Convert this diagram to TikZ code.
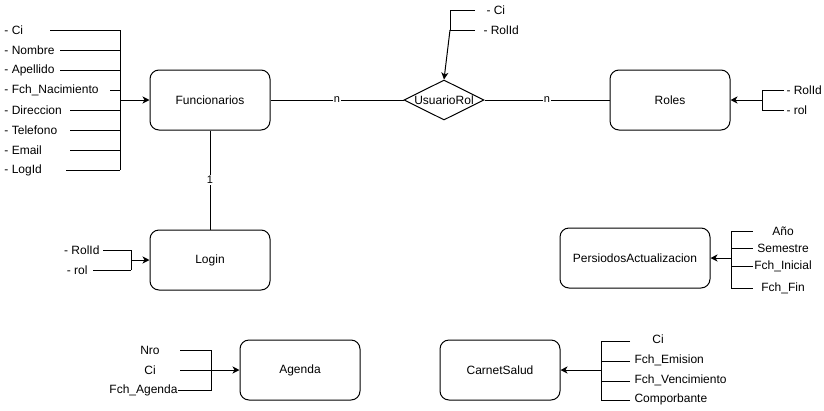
\documentclass[tikz,border=0pt]{standalone}
\usepackage{fontspec}
\setmainfont{Liberation Sans}
\usetikzlibrary{shapes.geometric,arrows.meta,positioning}
\tikzset{
  entidad/.style={draw, rounded corners=9pt, minimum width=120pt, minimum height=60pt, inner sep=0pt},
  relacion/.style={draw, diamond, minimum width=80pt, minimum height=40pt, inner sep=0pt},
  atributo/.style={inner sep=0pt},
  card/.style={fill=white, inner sep=1pt, font=\fontsize{11}{13}\selectfont},
  flecha/.style={-{Stealth[length=7pt,width=7pt,inset=2pt]}},
}
\begin{document}
\begin{tikzpicture}[x=1pt, y=-1pt, line width=1pt, font=\fontsize{12}{14}\selectfont]
            \useasboundingbox (0,0) rectangle (824,410);
            % entities
            \node[entidad] (func) at (210,100) {Funcionarios};
            \node[relacion, label=center:UsuarioRol] (urol) at (444,100) {};
            \node[entidad] (roles) at (670,100) {Roles};
            \node[entidad] (login) at (210,260) {Login};
            \node[entidad, minimum width=150pt] (period) at (635,258) {PersiodosActualizacion};
            \node[entidad] (agenda) at (300,370) {Agenda};
            \node[entidad] (carnet) at (500,370) {CarnetSalud};
            % relations
            \draw (func) -- node[card] {n} (urol);
            \draw (urol) -- node[card] {n} (roles);
            \draw (func) -- node[card] {1} (login);
            % funcionarios attributes
            \coordinate (fbar) at (120,100);
            \foreach \t/\y/\s [count=\i] in {- Ci/30/50, - Nombre/50/60, - Apellido/70/60,
                - Fch\_Nacimiento/90/110, - Direccion/110/70, - Telefono/130/70,
                - Email/150/70, - LogId/170/66} {
              \node[atributo, anchor=west] (fa\i) at (4,\y) {\t};
              \coordinate (fs\i) at (\s,\y);
              \draw (fs\i) -- (fs\i -| fbar);
            }
            \draw (fs1 -| fbar) -- (fs8 -| fbar);
            \draw[flecha] (fbar) -- (func);
            % usuariorol attributes
            \coordinate (ubar) at (450,30);
            \foreach \t/\y/\x [count=\i] in {- Ci/10/486, - RolId/30/483} {
              \node[atributo, anchor=west] (ua\i) at (\x,\y) {\t};
              \coordinate (us\i) at (475,\y);
              \draw (us\i) -- (us\i -| ubar);
            }
            \draw (us1 -| ubar) -- (ubar);
            \draw[flecha] (ubar) -- (urol.north);
            % roles attributes
            \coordinate (rbar) at (762,100);
            \foreach \t/\y [count=\i] in {- RolId/90, - rol/110} {
              \node[atributo, anchor=west] (ra\i) at (786,\y) {\t};
              \coordinate (rs\i) at (784,\y);
              \draw (rs\i) -- (rs\i -| rbar);
            }
            \draw (rs1 -| rbar) -- (rs2 -| rbar);
            \draw[flecha] (rbar) -- (roles);
            % login attributes
            \coordinate (lbar) at (131,260);
            \foreach \t/\y/\x/\s [count=\i] in {- RolId/250/100/103, - rol/270/88/93} {
              \node[atributo, anchor=east] (la\i) at (\x,\y) {\t};
              \coordinate (ls\i) at (\s,\y);
              \draw (ls\i) -- (ls\i -| lbar);
            }
            \draw (ls1 -| lbar) -- (ls2 -| lbar);
            \draw[flecha] (lbar) -- (login);
            % periodos attributes
            \coordinate (pbar) at (731,258);
            \foreach \t/\y [count=\i] in {A\~no/231, Semestre/248, Fch\_Inicial/266, Fch\_Fin/288} {
              \node[atributo, minimum width=60pt] (pa\i) at (783,\y) {\t};
              \draw (pa\i.west) -- (pa\i.west -| pbar);
            }
            \draw (pa1.west -| pbar) -- (pa4.west -| pbar);
            \draw[flecha] (pbar) -- (period);
            % agenda attributes
            \coordinate (abar) at (211,370);
            \node[atributo] (aa1) at (150,350) {Nro};
            \node[atributo] (aa2) at (150,370) {Ci};
            \node[atributo, anchor=east] (aa3) at (178,390) {Fch\_Agenda};
            \coordinate (as1) at (180,350);
            \coordinate (as2) at (180,370);
            \draw (as1) -| (abar);
            \draw (aa3.east) -| (abar);
            \draw[flecha] (as2) -- (agenda);
            % carnet attributes
            \coordinate (cbar) at (601,370);
            \node[atributo] (ca1) at (658,339) {Ci};
            \foreach \t/\y [count=\i from 2] in {Fch\_Emision/360, Fch\_Vencimiento/380, Comporbante/399} {
              \node[atributo, anchor=west] (ca\i) at (634,\y) {\t};
            }
            \foreach \y [count=\i] in {341, 361, 381, 400} {
              \coordinate (cs\i) at (630,\y);
              \draw (cs\i) -- (cs\i -| cbar);
            }
            \draw (cs1 -| cbar) -- (cs4 -| cbar);
            \draw[flecha] (cbar) -- (carnet);
          \end{tikzpicture}
\end{document}
